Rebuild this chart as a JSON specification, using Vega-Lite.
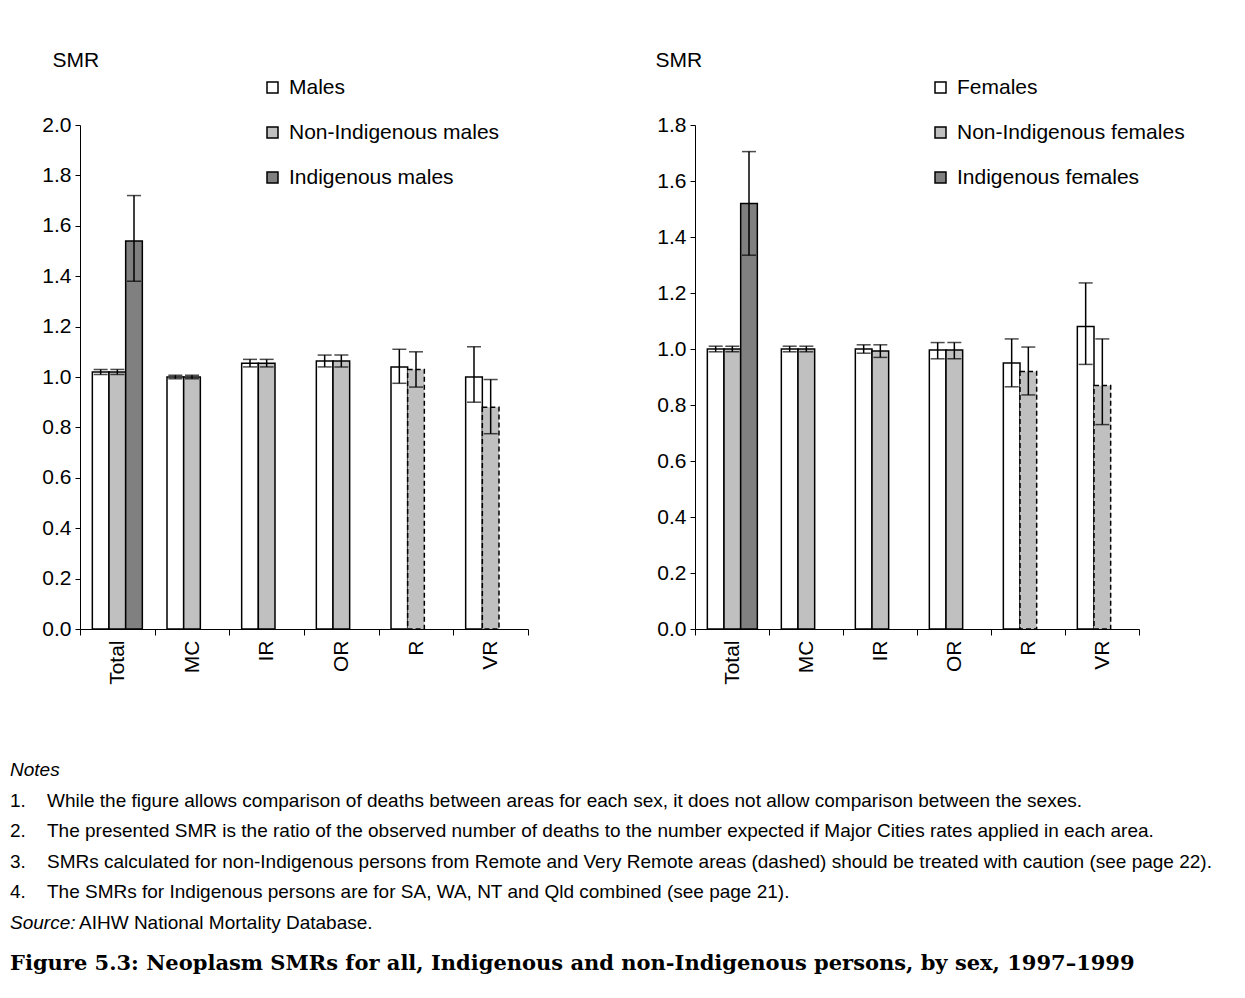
{
  "$schema": "https://vega.github.io/schema/vega-lite/v6.json",
  "background": "white",
  "padding": {"left": 10, "top": 49, "right": 5, "bottom": 10},
  "datasets": {
    "males": [
      {"area": "Total", "s": "All", "label": "Males", "smr": 1.02, "lo": 1.01, "hi": 1.03, "dashed": false},
      {"area": "Total", "s": "Non", "label": "Non-Indigenous males", "smr": 1.02, "lo": 1.01, "hi": 1.03, "dashed": false},
      {"area": "Total", "s": "Ind", "label": "Indigenous males", "smr": 1.54, "lo": 1.38, "hi": 1.72, "dashed": false},
      {"area": "MC", "s": "All", "label": "Males", "smr": 1.0, "lo": 0.993, "hi": 1.007, "dashed": false},
      {"area": "MC", "s": "Non", "label": "Non-Indigenous males", "smr": 1.0, "lo": 0.993, "hi": 1.007, "dashed": false},
      {"area": "IR", "s": "All", "label": "Males", "smr": 1.055, "lo": 1.04, "hi": 1.07, "dashed": false},
      {"area": "IR", "s": "Non", "label": "Non-Indigenous males", "smr": 1.055, "lo": 1.04, "hi": 1.07, "dashed": false},
      {"area": "OR", "s": "All", "label": "Males", "smr": 1.063, "lo": 1.04, "hi": 1.087, "dashed": false},
      {"area": "OR", "s": "Non", "label": "Non-Indigenous males", "smr": 1.063, "lo": 1.04, "hi": 1.087, "dashed": false},
      {"area": "R", "s": "All", "label": "Males", "smr": 1.04, "lo": 0.975, "hi": 1.11, "dashed": false},
      {"area": "R", "s": "Non", "label": "Non-Indigenous males", "smr": 1.03, "lo": 0.96, "hi": 1.10, "dashed": true},
      {"area": "VR", "s": "All", "label": "Males", "smr": 1.0, "lo": 0.90, "hi": 1.12, "dashed": false},
      {"area": "VR", "s": "Non", "label": "Non-Indigenous males", "smr": 0.88, "lo": 0.775, "hi": 0.99, "dashed": true}
    ],
    "females": [
      {"area": "Total", "s": "All", "label": "Females", "smr": 1.0, "lo": 0.99, "hi": 1.01, "dashed": false},
      {"area": "Total", "s": "Non", "label": "Non-Indigenous females", "smr": 1.0, "lo": 0.99, "hi": 1.01, "dashed": false},
      {"area": "Total", "s": "Ind", "label": "Indigenous females", "smr": 1.52, "lo": 1.335, "hi": 1.705, "dashed": false},
      {"area": "MC", "s": "All", "label": "Females", "smr": 1.0, "lo": 0.99, "hi": 1.01, "dashed": false},
      {"area": "MC", "s": "Non", "label": "Non-Indigenous females", "smr": 1.0, "lo": 0.99, "hi": 1.01, "dashed": false},
      {"area": "IR", "s": "All", "label": "Females", "smr": 1.0, "lo": 0.985, "hi": 1.015, "dashed": false},
      {"area": "IR", "s": "Non", "label": "Non-Indigenous females", "smr": 0.993, "lo": 0.97, "hi": 1.015, "dashed": false},
      {"area": "OR", "s": "All", "label": "Females", "smr": 0.996, "lo": 0.965, "hi": 1.023, "dashed": false},
      {"area": "OR", "s": "Non", "label": "Non-Indigenous females", "smr": 0.996, "lo": 0.965, "hi": 1.023, "dashed": false},
      {"area": "R", "s": "All", "label": "Females", "smr": 0.95, "lo": 0.865, "hi": 1.036, "dashed": false},
      {"area": "R", "s": "Non", "label": "Non-Indigenous females", "smr": 0.92, "lo": 0.836, "hi": 1.007, "dashed": true},
      {"area": "VR", "s": "All", "label": "Females", "smr": 1.08, "lo": 0.945, "hi": 1.236, "dashed": false},
      {"area": "VR", "s": "Non", "label": "Non-Indigenous females", "smr": 0.87, "lo": 0.73, "hi": 1.036, "dashed": true}
    ],
    "notes": [
      {"row": 0, "kind": "head", "a": "Notes", "b": ""},
      {"row": 1, "kind": "note", "a": "1.", "b": "While the figure allows comparison of deaths between areas for each sex, it does not allow comparison between the sexes."},
      {"row": 2, "kind": "note", "a": "2.", "b": "The presented SMR is the ratio of the observed number of deaths to the number expected if Major Cities rates applied in each area."},
      {"row": 3, "kind": "note", "a": "3.", "b": "SMRs calculated for non-Indigenous persons from Remote and Very Remote areas (dashed) should be treated with caution (see page 22)."},
      {"row": 4, "kind": "note", "a": "4.", "b": "The SMRs for Indigenous persons are for SA, WA, NT and Qld combined (see page 21)."},
      {"row": 5, "kind": "source", "a": "Source:", "b": "AIHW National Mortality Database."}
    ]
  },
  "title": {
    "text": "Figure 5.3: Neoplasm SMRs for all, Indigenous and non-Indigenous persons, by sex, 1997–1999",
    "orient": "bottom",
    "anchor": "start",
    "font": "DejaVu Serif",
    "fontSize": 21,
    "fontWeight": "bold",
    "color": "black",
    "offset": 15
  },
  "spacing": 70,
  "vconcat": [
    {
      "spacing": 126,
      "hconcat": [
        {
          "width": 448,
          "height": 504,
          "data": {"name": "males"},
          "encoding": {
            "x": {
              "field": "area", "type": "nominal",
              "sort": ["Total", "MC", "IR", "OR", "R", "VR"],
              "scale": {"paddingInner": 0, "paddingOuter": 0},
              "axis": {"title": null, "labelAngle": 270, "tickBand": "extent", "tickSize": 6, "labelPadding": 5}
            },
            "xOffset": {
              "field": "s", "type": "nominal",
              "scale": {"domain": ["All", "Non", "Ind"], "paddingInner": 0, "paddingOuter": 0.74}
            }
          },
          "layer": [
            {
              "mark": {"type": "bar", "stroke": "black", "strokeWidth": 1.5},
              "encoding": {
                "y": {
                  "field": "smr", "type": "quantitative",
                  "scale": {"domain": [0, 2]},
                  "axis": {"title": "SMR", "values": [0, 0.2, 0.4, 0.6, 0.8, 1.0, 1.2, 1.4, 1.6, 1.8, 2.0], "format": ".1f", "titleX": -28, "titleY": -65}
                },
                "fill": {
                  "field": "label", "type": "nominal",
                  "scale": {"domain": ["Males", "Non-Indigenous males", "Indigenous males"], "range": ["#ffffff", "#c0c0c0", "#808080"]},
                  "legend": {"orient": "none", "legendX": 182, "legendY": -48, "title": null}
                },
                "strokeDash": {"condition": {"test": "datum.dashed", "value": [5, 3]}, "value": [1, 0]}
              }
            },
            {
              "mark": {"type": "rule", "color": "black", "strokeWidth": 1.5},
              "encoding": {"y": {"field": "lo", "type": "quantitative"}, "y2": {"field": "hi"}}
            },
            {
              "mark": {"type": "tick", "color": "black", "thickness": 1.5, "size": 14},
              "encoding": {"y": {"field": "lo", "type": "quantitative"}}
            },
            {
              "mark": {"type": "tick", "color": "black", "thickness": 1.5, "size": 14},
              "encoding": {"y": {"field": "hi", "type": "quantitative"}}
            }
          ]
        },
        {
          "width": 444,
          "height": 504,
          "data": {"name": "females"},
          "encoding": {
            "x": {
              "field": "area", "type": "nominal",
              "sort": ["Total", "MC", "IR", "OR", "R", "VR"],
              "scale": {"paddingInner": 0, "paddingOuter": 0},
              "axis": {"title": null, "labelAngle": 270, "tickBand": "extent", "tickSize": 6, "labelPadding": 5}
            },
            "xOffset": {
              "field": "s", "type": "nominal",
              "scale": {"domain": ["All", "Non", "Ind"], "paddingInner": 0, "paddingOuter": 0.74}
            }
          },
          "layer": [
            {
              "mark": {"type": "bar", "stroke": "black", "strokeWidth": 1.5},
              "encoding": {
                "y": {
                  "field": "smr", "type": "quantitative",
                  "scale": {"domain": [0, 1.8]},
                  "axis": {"title": "SMR", "values": [0, 0.2, 0.4, 0.6, 0.8, 1.0, 1.2, 1.4, 1.6, 1.8], "format": ".1f", "titleX": -40, "titleY": -65}
                },
                "fill": {
                  "field": "label", "type": "nominal",
                  "scale": {"domain": ["Females", "Non-Indigenous females", "Indigenous females"], "range": ["#ffffff", "#c0c0c0", "#808080"]},
                  "legend": {"orient": "none", "legendX": 235, "legendY": -48, "title": null}
                },
                "strokeDash": {"condition": {"test": "datum.dashed", "value": [5, 3]}, "value": [1, 0]}
              }
            },
            {
              "mark": {"type": "rule", "color": "black", "strokeWidth": 1.5},
              "encoding": {"y": {"field": "lo", "type": "quantitative"}, "y2": {"field": "hi"}}
            },
            {
              "mark": {"type": "tick", "color": "black", "thickness": 1.5, "size": 14},
              "encoding": {"y": {"field": "lo", "type": "quantitative"}}
            },
            {
              "mark": {"type": "tick", "color": "black", "thickness": 1.5, "size": 14},
              "encoding": {"y": {"field": "hi", "type": "quantitative"}}
            }
          ]
        }
      ],
      "resolve": {"scale": {"fill": "independent", "y": "independent", "x": "independent"}, "legend": {"fill": "independent"}}
    },
    {
      "width": 1150,
      "height": 183,
      "data": {"name": "notes"},
      "encoding": {
        "y": {"field": "row", "type": "ordinal", "axis": null, "scale": {"paddingInner": 0, "paddingOuter": 0}}
      },
      "layer": [
        {
          "transform": [{"filter": "datum.kind !== 'note'"}],
          "mark": {"type": "text", "align": "left", "baseline": "middle", "font": "Liberation Sans", "fontSize": 19, "fontStyle": "italic", "x": -70},
          "encoding": {"text": {"field": "a"}}
        },
        {
          "transform": [{"filter": "datum.kind === 'note'"}],
          "mark": {"type": "text", "align": "left", "baseline": "middle", "font": "Liberation Sans", "fontSize": 19, "x": -70},
          "encoding": {"text": {"field": "a"}}
        },
        {
          "transform": [{"filter": "datum.kind === 'note'"}],
          "mark": {"type": "text", "align": "left", "baseline": "middle", "font": "Liberation Sans", "fontSize": 19, "x": -33},
          "encoding": {"text": {"field": "b"}}
        },
        {
          "transform": [{"filter": "datum.kind === 'source'"}],
          "mark": {"type": "text", "align": "left", "baseline": "middle", "font": "Liberation Sans", "fontSize": 19, "x": -1},
          "encoding": {"text": {"field": "b"}}
        }
      ]
    }
  ],
  "config": {
    "font": "Liberation Sans",
    "view": {"stroke": null},
    "axis": {
      "labelFont": "Liberation Sans", "labelFontSize": 21, "labelColor": "black",
      "titleFont": "Liberation Sans", "titleFontSize": 21, "titleFontWeight": "normal", "titleColor": "black",
      "domainColor": "black", "domainWidth": 1, "tickColor": "black", "tickWidth": 1, "grid": false
    },
    "axisY": {"titleAngle": 0, "titleAlign": "left", "titleBaseline": "middle", "tickSize": 5, "labelPadding": 4},
    "legend": {
      "labelFont": "Liberation Sans", "labelFontSize": 21, "labelColor": "black",
      "symbolType": "square", "symbolSize": 121, "symbolStrokeColor": "black", "symbolStrokeWidth": 1.5,
      "rowPadding": 23, "labelOffset": 6, "labelLimit": 400
    }
  }
}
